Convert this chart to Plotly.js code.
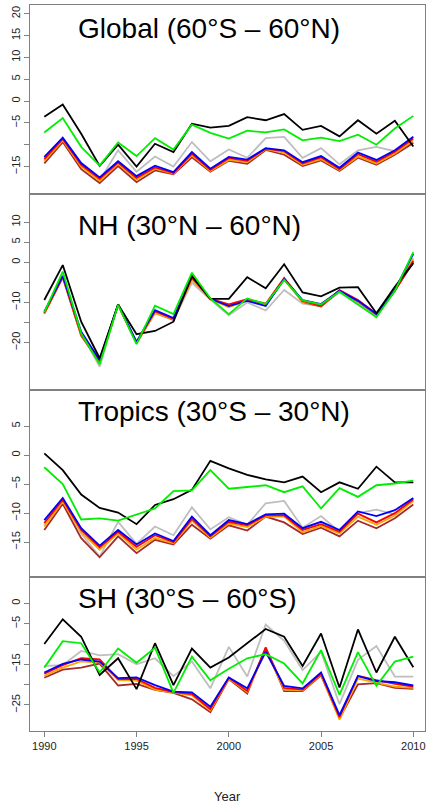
<!DOCTYPE html>
<html>
<head>
<meta charset="utf-8">
<script src="https://cdn.plot.ly/plotly-3.0.1.min.js"></script>
<style>html,body{margin:0;padding:0;background:#fff}#chart{width:426px;height:806px}</style>
</head>
<body>
<div id="chart"></div>
<script>
const years = [1990,1991,1992,1993,1994,1995,1996,1997,1998,1999,2000,2001,2002,2003,2004,2005,2006,2007,2008,2009,2010];
const xTickVals = [1990,1995,2000,2005,2010];
const panelTitles = ["Global (60°S – 60°N)","NH (30°N – 60°N)","Tropics (30°S – 30°N)","SH (30°S – 60°S)"];
const xTitle = "Year";

// Global
const globalBlack = [-3.6,-0.8,-7.5,-14.9,-10.0,-15.0,-9.8,-11.7,-5.2,-6.1,-5.7,-3.7,-4.4,-3.0,-6.6,-5.7,-8.1,-4.4,-7.5,-4.5,-10.4];
const globalGreen = [-7.2,-3.9,-10.5,-14.8,-9.5,-12.6,-8.5,-11.1,-5.4,-7.3,-8.6,-6.8,-7.2,-6.5,-9.0,-8.4,-9.2,-7.7,-10.0,-6.3,-3.4];
const globalGrey  = [-13.0,-8.6,-14.4,-18.2,-11.3,-16.2,-12.7,-15.0,-9.4,-13.8,-11.1,-13.0,-8.5,-8.2,-13.0,-10.8,-14.5,-11.3,-10.5,-11.5,-9.5];
const globalBlue  = [-12.8,-8.4,-14.2,-17.5,-13.8,-17.2,-14.8,-16.3,-11.7,-15.5,-12.8,-13.4,-10.8,-11.3,-14.0,-12.6,-15.3,-11.8,-13.5,-11.3,-8.2];
const globalRed   = [-13.3,-8.7,-14.6,-17.8,-14.1,-17.6,-15.2,-16.5,-12.1,-15.8,-13.1,-13.7,-10.9,-11.5,-14.3,-12.9,-15.6,-12.2,-13.9,-11.6,-8.6];
const globalOrange= [-13.7,-9.0,-15.0,-18.3,-14.4,-18.0,-15.5,-16.6,-12.4,-16.0,-13.5,-14.0,-11.0,-11.8,-14.6,-13.3,-15.8,-12.7,-14.3,-12.0,-9.0];
const globalBrown = [-14.3,-9.4,-15.6,-18.8,-14.9,-18.6,-15.9,-16.8,-12.9,-16.2,-13.7,-14.4,-11.2,-12.3,-14.9,-13.6,-16.0,-13.0,-14.6,-12.3,-9.6];

// NH
const nhBlack = [-9.4,-0.7,-14.8,-23.9,-10.5,-17.9,-17.1,-14.8,-3.4,-9.1,-9.1,-3.7,-6.5,-0.5,-7.5,-8.5,-6.3,-6.2,-12.7,-6.1,-0.2];
const nhGreen = [-12.5,-2.3,-17.7,-25.4,-10.6,-20.4,-10.8,-12.9,-2.6,-9.0,-12.9,-9.0,-10.4,-4.4,-9.5,-10.5,-7.3,-10.5,-13.7,-7.1,2.5];
const nhGrey  = [-12.6,-3.4,-17.6,-26.0,-10.6,-20.2,-12.7,-14.4,-5.1,-9.3,-13.2,-10.0,-12.0,-6.9,-10.3,-10.9,-7.5,-10.6,-13.4,-7.3,1.0];
const nhBlue  = [-12.3,-3.4,-17.3,-24.3,-10.5,-19.8,-11.9,-13.9,-3.4,-9.1,-10.9,-9.6,-10.9,-4.2,-9.4,-10.4,-7.1,-9.6,-12.9,-6.9,2.1];
const nhRed   = [-12.6,-3.6,-18.0,-24.6,-10.5,-20.0,-12.2,-14.1,-3.8,-9.1,-10.5,-9.2,-10.3,-3.9,-9.6,-10.9,-6.9,-9.4,-12.8,-7.0,0.3];
const nhOrange= [-12.7,-3.7,-18.1,-24.7,-10.6,-20.1,-12.6,-14.2,-4.4,-9.2,-11.2,-9.5,-10.6,-4.3,-9.8,-10.8,-7.0,-9.7,-12.9,-6.9,0.7];
const nhBrown = [-12.8,-3.8,-18.3,-24.8,-10.6,-20.1,-12.4,-14.3,-4.0,-9.2,-10.8,-9.4,-10.7,-4.1,-9.9,-11.0,-7.1,-9.8,-13.0,-7.1,0.0];

// Tropics
const trBlack = [0.3,-2.6,-6.8,-9.1,-9.9,-11.9,-8.6,-7.6,-6.0,-1.0,-2.3,-3.4,-4.2,-4.7,-3.7,-6.4,-4.7,-5.8,-2.0,-4.7,-4.7];
const trGreen = [-2.1,-5.0,-11.1,-10.9,-11.3,-10.3,-9.2,-6.2,-6.1,-2.6,-5.8,-5.5,-5.2,-6.4,-5.4,-9.2,-5.7,-7.2,-5.2,-4.9,-4.4];
const trGrey  = [-12.0,-8.0,-13.5,-17.5,-11.5,-15.3,-12.3,-13.8,-9.0,-12.8,-10.7,-12.0,-8.3,-7.9,-12.5,-10.5,-13.2,-10.0,-9.4,-10.2,-7.6];
const trBlue  = [-11.2,-7.4,-12.6,-15.6,-12.9,-15.4,-13.5,-14.8,-10.6,-13.8,-11.2,-11.9,-10.2,-10.1,-12.6,-11.5,-12.9,-9.7,-10.5,-9.5,-7.4];
const trRed   = [-11.7,-7.7,-12.9,-15.9,-13.2,-15.8,-13.8,-15.0,-11.0,-14.0,-11.5,-12.1,-10.4,-10.4,-12.9,-11.9,-13.2,-10.1,-11.6,-10.0,-7.6];
const trOrange= [-12.3,-8.0,-13.3,-16.3,-13.5,-16.3,-14.3,-15.2,-11.3,-14.2,-11.8,-12.4,-10.6,-10.6,-13.3,-12.2,-13.5,-10.6,-12.0,-10.4,-7.9];
const trBrown = [-12.9,-8.4,-14.3,-17.6,-14.0,-16.9,-14.6,-15.4,-12.0,-14.4,-12.1,-13.0,-10.6,-11.6,-13.6,-12.5,-14.0,-11.3,-12.6,-10.9,-8.5];

// SH
const shBlack = [-10.0,-3.9,-8.2,-17.6,-13.5,-21.1,-9.8,-20.1,-11.1,-15.8,-13.3,-9.8,-6.3,-8.2,-15.4,-7.4,-20.7,-6.4,-17.0,-8.2,-15.7];
const shGreen = [-15.8,-9.3,-9.8,-17.0,-11.1,-14.6,-10.9,-22.0,-13.1,-18.9,-16.1,-13.5,-12.5,-14.8,-19.7,-11.5,-22.5,-12.0,-20.3,-14.3,-13.1];
const shGrey  = [-15.4,-15.2,-11.7,-12.8,-12.5,-15.0,-13.5,-17.9,-14.3,-20.9,-10.7,-18.0,-5.2,-9.2,-16.4,-11.9,-24.8,-13.9,-10.5,-18.0,-18.0];
const shBlue  = [-17.0,-14.9,-13.8,-14.3,-18.4,-18.2,-20.1,-21.7,-21.9,-25.4,-18.2,-20.9,-11.9,-20.3,-20.9,-17.0,-27.5,-17.9,-19.1,-19.4,-20.2];
const shRed   = [-17.3,-15.2,-13.5,-13.8,-18.6,-18.6,-20.8,-21.8,-22.3,-26.0,-18.3,-21.5,-11.0,-20.8,-21.2,-17.3,-28.0,-17.8,-18.9,-19.8,-20.5];
const shOrange= [-17.8,-15.8,-14.3,-14.5,-18.9,-19.0,-21.2,-21.9,-22.6,-26.3,-18.5,-21.8,-11.5,-21.2,-21.4,-17.5,-28.6,-18.5,-19.5,-20.5,-20.8];
const shBrown = [-18.3,-16.3,-15.8,-14.8,-20.2,-19.8,-21.3,-22.0,-23.6,-26.8,-18.6,-22.2,-10.8,-21.6,-21.6,-17.7,-28.3,-19.9,-19.6,-20.8,-21.0];

// y tick values and labels per panel
const yTicks1 = [-15,-10,-5,0,5,10,15,20];
const yLabels1 = ["−15","","−5","0","5","10","15","20"];
const yTicks2 = [-20,-15,-10,-5,0,5,10];
const yLabels2 = ["−20","","−10","","0","5","10"];
const yTicks3 = [-15,-10,-5,0,5];
const yLabels3 = ["−15","−10","−5","0","5"];
const yTicks4 = [-25,-20,-15,-10,-5,0];
const yLabels4 = ["−25","","−15","","−5","0"];

const colors = {grey:"#bebebe", brown:"#a52a2a", orange:"#ffa500", red:"#ff0000", blue:"#0000ff", black:"#000000", green:"#00ee00"};

const panels = [
  [globalGrey, globalBrown, globalOrange, globalRed, globalBlue, globalBlack, globalGreen],
  [nhGrey, nhBrown, nhOrange, nhRed, nhBlue, nhBlack, nhGreen],
  [trGrey, trBrown, trOrange, trRed, trBlue, trBlack, trGreen],
  [shGrey, shBrown, shOrange, shRed, shBlue, shBlack, shGreen]
];
const order = ["grey","brown","orange","red","blue","black","green"];

// layout geometry (pixels)
const H = 806, mt = 5, mb = 75, ml = 30, mr = 1;
const plotH = H - mt - mb; // 726
const bounds = [5, 194, 390, 577, 731];
const toPaperY = py => (H - mb - py) / plotH;
const toPaperX = px => (px - ml) / (426 - ml - mr);

const yRanges = [[-21.3, 22.0], [-31.8, 17.0], [-21.0, 11.2], [-31.4, 6.5]];
const yT = [[yTicks1,yLabels1],[yTicks2,yLabels2],[yTicks3,yLabels3],[yTicks4,yLabels4]];
const titleY = [28.5, 225.5, 411.2, 598.8];

const traces = [];
panels.forEach((series, p) => {
  const sfx = p === 0 ? "" : String(p + 1);
  series.forEach((vals, k) => {
    traces.push({
      x: years, y: vals, type: "scatter", mode: "lines",
      xaxis: "x" + sfx, yaxis: "y" + sfx,
      line: {color: colors[order[k]], width: 1.8},
      hoverinfo: "skip", showlegend: false
    });
  });
});

const layout = {
  width: 426, height: 806,
  margin: {l: ml, r: mr, t: mt, b: mb, pad: 0},
  paper_bgcolor: "#fff", plot_bgcolor: "#fff",
  font: {family: "Liberation Sans, Arial, sans-serif", color: "#000"},
  showlegend: false,
  annotations: []
};

const axisLine = "#808080";
for (let p = 0; p < 4; p++) {
  const sfx = p === 0 ? "" : String(p + 1);
  const top = toPaperY(bounds[p]);
  const bot = toPaperY(bounds[p + 1]);
  layout["xaxis" + sfx] = {
    anchor: "y" + sfx,
    range: [1989.225, 2010.634],
    showgrid: false, zeroline: false,
    showline: true, mirror: true, linecolor: axisLine, linewidth: 1,
    tickvals: xTickVals,
    ticks: p === 3 ? "outside" : "",
    ticklen: 5, tickcolor: axisLine,
    showticklabels: p === 3,
    tickfont: {size: 11, color: "#222"}
  };
  layout["yaxis" + sfx] = {
    anchor: "x" + sfx,
    domain: [Math.max(0, bot), Math.min(1, top)],
    range: yRanges[p],
    showgrid: false, zeroline: false,
    showline: true, mirror: true, linecolor: axisLine, linewidth: 1,
    tickvals: yT[p][0], ticktext: yT[p][1],
    ticks: "outside", ticklen: 5, tickcolor: axisLine,
    tickangle: -90,
    tickfont: {size: 11, color: "#222"}
  };
  layout.annotations.push({
    text: panelTitles[p], xref: "paper", yref: "paper",
    x: toPaperX(76), y: toPaperY(titleY[p]),
    xanchor: "left", yanchor: "middle", showarrow: false,
    font: {size: 28, color: "#000", family: "Liberation Sans, Arial, sans-serif"}
  });
}
layout.annotations.push({
  text: xTitle, xref: "paper", yref: "paper",
  x: 0.5, y: toPaperY(797), xanchor: "center", yanchor: "middle",
  showarrow: false, font: {size: 13, color: "#222"}
});

Plotly.newPlot("chart", traces, layout, {staticPlot: true, displayModeBar: false});
</script>
</body>
</html>
